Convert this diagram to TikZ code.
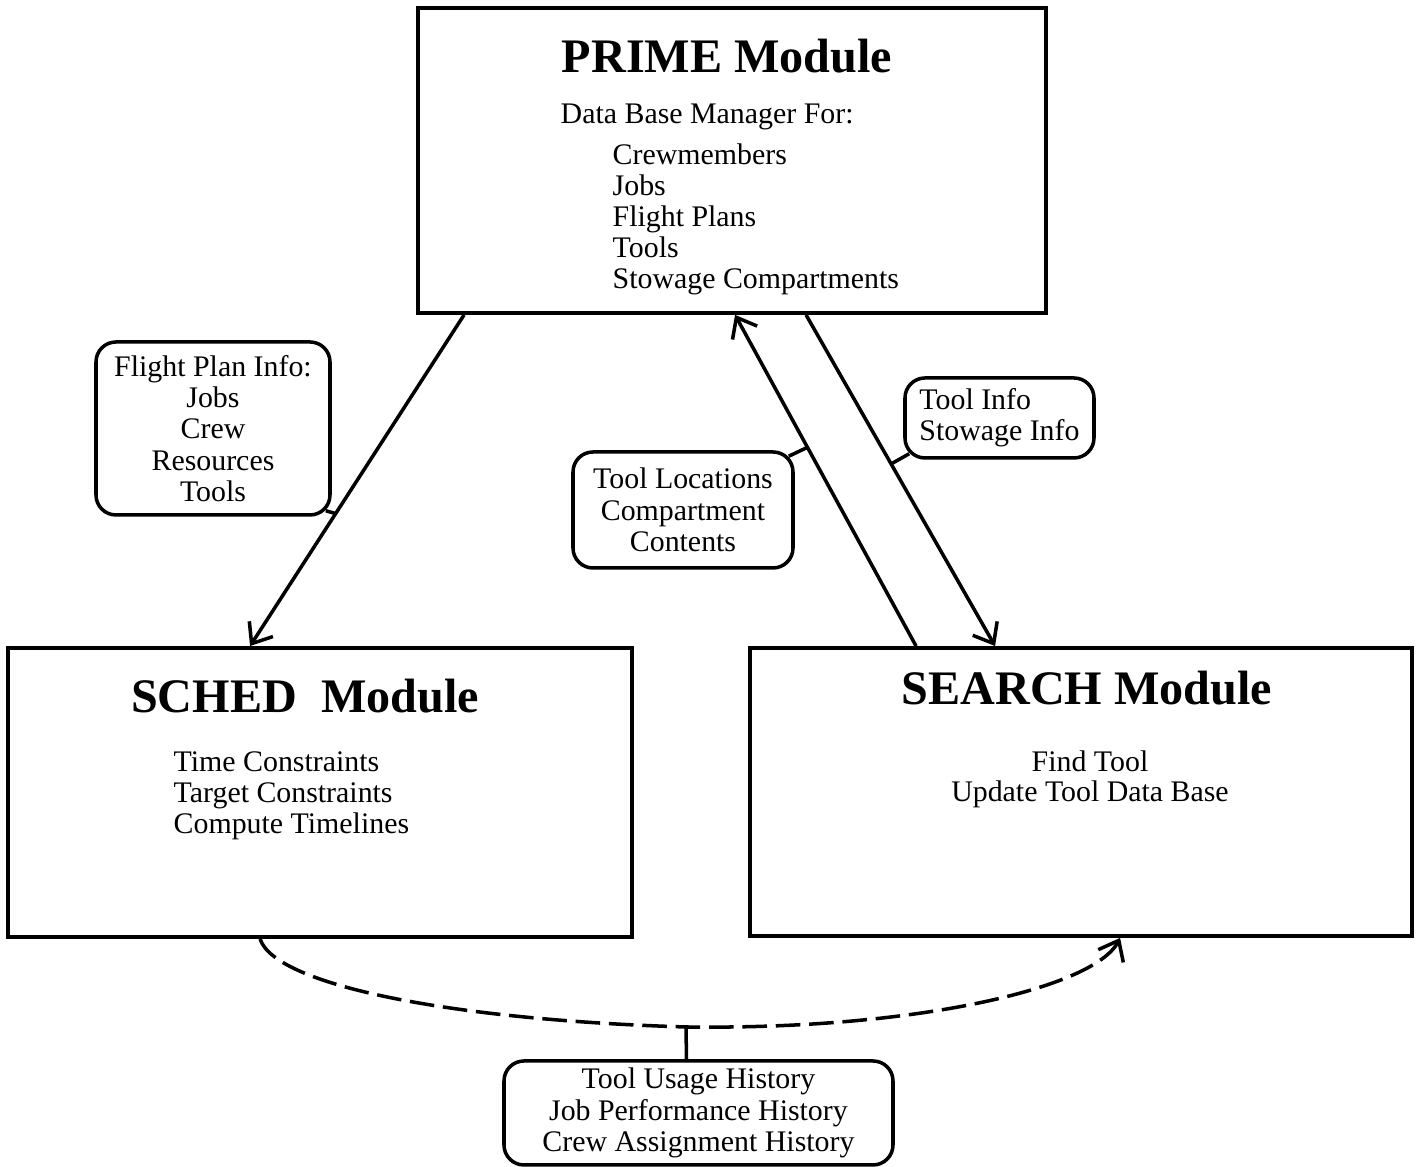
\documentclass[tikz,border=0pt]{standalone}
\usepackage{fontspec}
\setmainfont{Liberation Serif}
\usepackage{tikz}
\usetikzlibrary{arrows.meta, positioning, calc}
\tikzset{
  modbox/.style={rectangle, draw=black, line width=1.1pt, inner sep=0pt},
  modtitle/.style={font=\fontsize{13.7}{16}\selectfont\bfseries, inner sep=0pt},
  body/.style={font=\fontsize{8.5}{8.8}\selectfont, inner sep=0pt},
  callout/.style={rectangle, draw=black, rounded corners=0.2cm, line width=1pt,
    align=center, font=\fontsize{8.5}{8.9}\selectfont, inner sep=0pt},
  flow/.style={-{Straight Barb[length=5pt,width=8pt]}, line width=1pt},
  link/.style={line width=1pt},
  dashpat/.style={dash pattern=on 7pt off 2.5pt}
}

\begin{document}
\begin{tikzpicture}
  \useasboundingbox (0,0) rectangle (14.16,11.67);
  % Module boxes
  \node[modbox, minimum width=6.28cm, minimum height=3.05cm] (prime) at (7.32,10.065) {};
  \node[modbox, minimum width=6.24cm, minimum height=2.89cm] (sched) at (3.20,3.745) {};
  \node[modbox, minimum width=6.62cm, minimum height=2.88cm] (search) at (10.81,3.75) {};

  % PRIME contents
  \node[modtitle, anchor=base] (primetitle) at (7.27,10.94) {PRIME Module};
  \node[body, anchor=base west] (primehead) at (5.60,10.43) {Data Base Manager For:};
  \foreach \entry [count=\i] in {Crewmembers, Jobs, Flight Plans, Tools, Stowage Compartments}
    \node[body, anchor=base west] (primeitem\i) at (6.12,10.33-0.31*\i) {\entry};

  % SCHED contents
  \node[modtitle, anchor=base] (schedtitle) at (3.05,4.54) {SCHED\ \ Module};
  \foreach \entry [count=\i] in {Time Constraints, Target Constraints, Compute Timelines}
    \node[body, anchor=base west] (scheditem\i) at (1.73,4.26-0.31*\i) {\entry};

  % SEARCH contents
  \node[modtitle, anchor=base] (searchtitle) at (10.87,4.62) {SEARCH Module};
  \foreach \entry [count=\i] in {Find Tool, Update Tool Data Base}
    \node[body, anchor=base] (searchitem\i) at (10.90,4.25-0.30*\i) {\entry};

  % Callouts
  \node[callout, minimum width=2.34cm, minimum height=1.73cm] (planinfo) at (2.13,7.385)
    {Flight Plan Info:\\Jobs\\Crew\\Resources\\Tools};
  \node[callout, align=left, minimum width=1.89cm, minimum height=0.80cm] (toolinfo) at (9.995,7.49)
    {Tool Info\\Stowage Info};
  \node[callout, minimum width=2.20cm, minimum height=1.16cm] (toolloc) at (6.83,6.57)
    {Tool Locations\\Compartment\\Contents};
  \node[callout, minimum width=3.89cm, minimum height=1.04cm] (history) at (6.985,0.54)
    {Tool Usage History\\Job Performance History\\Crew Assignment History};

  % Data flows between modules
  \draw[flow] ([xshift=0.48cm]prime.south west) -- ([xshift=2.44cm]sched.north west)
    coordinate[pos=0.6] (planjoin);
  \draw[link] ([shift={(-0.06,0.06)}]planinfo.south east) -- (planjoin);
  \draw[flow] ([xshift=1.68cm]search.north west) -- ([xshift=3.19cm]prime.south west)
    coordinate[pos=0.6] (locjoin);
  \draw[link] ([shift={(-0.06,-0.06)}]toolloc.north east) -- (locjoin);
  \draw[flow] ([xshift=3.90cm]prime.south west) -- ([xshift=2.47cm]search.north west)
    coordinate[pos=0.45] (infojoin);
  \draw[link] ([shift={(0.06,0.06)}]toolinfo.south west) -- (infojoin);

  % History exchange
  \draw[flow, dashpat] ([xshift=2.54cm]sched.south west)
    .. controls (2.75,1.82) and (4.5,1.47) .. (6.86,1.40) coordinate (histjoin)
    .. controls (9.2,1.37) and (10.95,1.80) .. ([xshift=3.72cm]search.south west);
  \draw[link] ([xshift=-0.12cm]history.north) -- (histjoin);
\end{tikzpicture}
\end{document}
